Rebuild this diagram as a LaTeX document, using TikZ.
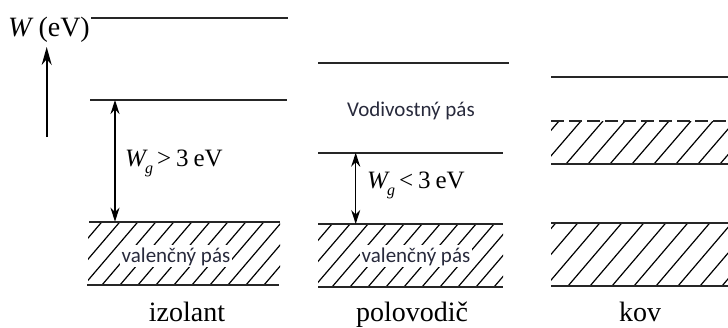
\documentclass[tikz,border=0pt]{standalone}
\usepackage{fontspec}
\setmainfont{Liberation Serif}
\newfontfamily\sansf{Carlito}
\usetikzlibrary{arrows.meta}
\definecolor{lbl}{RGB}{40,42,60}
\begin{document}
\begin{tikzpicture}[x=1pt,y=-1pt,
 band/.style={line width=1.8pt, draw=black!85},
 hatch/.style={line width=1.2pt},
 gaparrow/.style={line width=1.3pt, {Stealth[length=14pt,width=9pt]}-{Stealth[length=14pt,width=9pt]}},
 big/.style={font=\fontsize{28}{32}\selectfont, inner sep=0pt},
 small/.style={font=\sansf\fontsize{21}{24}\selectfont, text=lbl, inner sep=2pt, fill=white},
 wg/.style={font=\fontsize{25}{29}\selectfont, inner sep=0pt, anchor=base west},
]
\useasboundingbox (0,0) rectangle (728,327);

% ---------- axis ----------
\node[big, anchor=base west] (wlab) at (8,36) {\itshape W\upshape\ (eV)};
\coordinate (axb) at (46.7,137);
\coordinate (axt) at (46.7,47);
\draw[line width=1.7pt, -{Stealth[length=18pt,width=10pt]}] (axb) -- (axt);

% ---------- izolant ----------
\draw[band] (91,18) -- (288,18);
\draw[band] (90,100) -- (287,100);
\begin{scope}
 \clip (88,221.7) rectangle (280,285);
 \foreach \x in {30,48,...,300} \draw[hatch] (\x,285) -- ++(54,-63.3);
\end{scope}
\draw[band] (89,221.7) -- (280,221.7);
\draw[band] (87,285) -- (279,285);
\node[small, anchor=base] (vi) at (176,262) {valenčný pás};
\coordinate (iC) at (115,100);
\coordinate (iV) at (115,221.7);
\draw[gaparrow] (iC) -- (iV);
\node[wg] (wgi) at (125,166) {\itshape W\kern-1pt\raisebox{-7pt}{\fontsize{16}{16}\selectfont\itshape g}\upshape\kern4pt>\kern5pt3\kern5pt eV};
\node[big, anchor=base] (izo) at (187,321) {izolant};

% ---------- polovodic ----------
\draw[band] (318,62.7) -- (509,62.7);
\node[small, anchor=base, fill=none] (vp) at (411,116) {Vodivostný pás};
\draw[band] (318,152.7) -- (503,152.7);
\begin{scope}
 \clip (318,224) rectangle (503,287);
 \foreach \x in {260,278,...,520} \draw[hatch] (\x,287) -- ++(54,-63);
\end{scope}
\draw[band] (318,224) -- (503,224);
\draw[band] (318,287) -- (503,287);
\node[small, anchor=base] (vpp) at (416,262) {valenčný pás};
\coordinate (pC) at (355.7,152.7);
\coordinate (pV) at (355.7,224);
\draw[gaparrow] (pC) -- (pV);
\node[wg] (wgp) at (367,188) {\itshape W\kern-1pt\raisebox{-7pt}{\fontsize{16}{16}\selectfont\itshape g}\upshape\kern4pt<\kern5pt3\kern5pt eV};
\node[big, anchor=base] (pol) at (412,321) {polovodič};

% ---------- kov ----------
\draw[band] (551,77.3) -- (728,77.3);
\begin{scope}
 \clip (551,121) rectangle (728,164);
 \foreach \x in {500,522,...,760} \draw[hatch] (\x,164) -- ++(37,-43);
\end{scope}
\draw[band, dash pattern=on 13pt off 5pt] (551,121) -- (728,121);
\draw[band] (551,164) -- (728,164);
\begin{scope}
 \clip (551,222.7) rectangle (728,286);
 \foreach \x in {480,502,...,760} \draw[hatch] (\x,286) -- ++(54,-63.3);
\end{scope}
\draw[band] (551,222.7) -- (728,222.7);
\draw[band] (551,286) -- (728,286);
\node[big, anchor=base] (kov) at (640,321) {kov};
\end{tikzpicture}
\end{document}
